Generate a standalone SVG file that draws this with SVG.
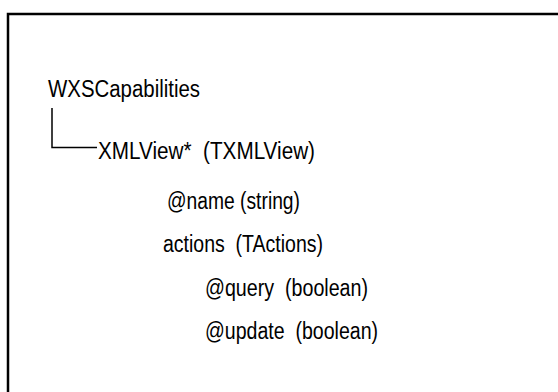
<svg xmlns="http://www.w3.org/2000/svg" width="558" height="392" viewBox="0 0 558 392">
<style>
.t{font-family:"Liberation Sans",Arial,sans-serif;font-size:23px;fill:#000;white-space:pre}
.c{fill:none;stroke:#000;stroke-width:1.5}
</style>
<rect x="0" y="0" width="558" height="392" fill="#fff"/>
<path d="M8,400 V14 H570" fill="none" stroke="#000" stroke-width="2.5"/>
<g id="connectors">
<path class="c" d="M52,108 V147.5 H97"/>
</g>
<g id="n1"><text class="t" x="48" y="97" textLength="152" lengthAdjust="spacingAndGlyphs">WXSCapabilities</text></g>
<g id="n2"><text class="t" x="98" y="159" textLength="217" lengthAdjust="spacingAndGlyphs">XMLView*  (TXMLView)</text></g>
<g id="n3"><text class="t" x="167" y="209" textLength="133" lengthAdjust="spacingAndGlyphs">@name (string)</text></g>
<g id="n4"><text class="t" x="163" y="252" textLength="160" lengthAdjust="spacingAndGlyphs">actions  (TActions)</text></g>
<g id="n5"><text class="t" x="205" y="296" textLength="163" lengthAdjust="spacingAndGlyphs">@query  (boolean)</text></g>
<g id="n6"><text class="t" x="205" y="339" textLength="173" lengthAdjust="spacingAndGlyphs">@update  (boolean)</text></g>
</svg>
